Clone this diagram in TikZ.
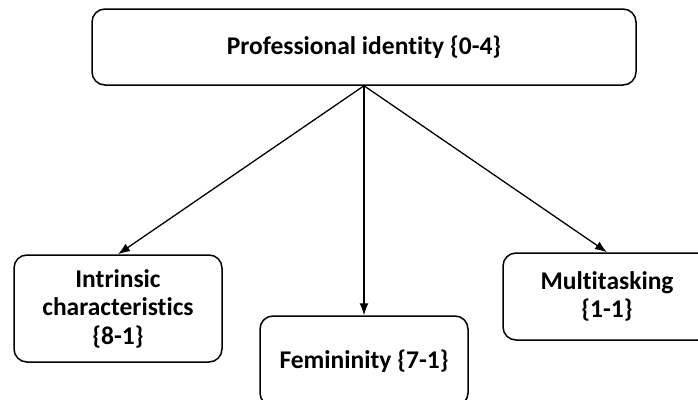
\documentclass[tikz,border=0pt]{standalone}
\usepackage{fontspec}
\setmainfont[Ligatures=NoCommon]{Carlito}
\usetikzlibrary{arrows.meta}
\tikzset{
  box/.style={draw=black, line width=1.5pt, rounded corners=13pt, fill=white,
    align=center, font=\bfseries\fontsize{25.5}{28.5}\selectfont, inner sep=0pt},
  conn/.style={line width=1.3pt, -{Latex[length=12pt,width=9pt]}}
}
\begin{document}
\begin{tikzpicture}[x=1pt,y=-1pt]
\useasboundingbox (0,0) rectangle (698,399);
\clip (0,0) rectangle (698,399);
\fill[white] (0,0) rectangle (698,399);
\node[box, minimum width=544pt, minimum height=76pt] (top) at (364,47) {Professional identity \{0-4\}};
\node[box, minimum width=208pt, minimum height=107pt] (left) at (118,308.5) {Intrinsic\\characteristics\\\{8-1\}};
\node[box, minimum width=208pt, minimum height=90pt] (mid) at (364,361) {Femininity \{7-1\}};
\node[box, minimum width=208pt, minimum height=87pt] (right) at (607,296.5) {Multitasking\\\{1-1\}};
\draw[conn] (top.south) -- (left.north);
\draw[conn] (top.south) -- (mid.north);
\draw[conn] (top.south) -- (right.north);
\end{tikzpicture}
\end{document}
